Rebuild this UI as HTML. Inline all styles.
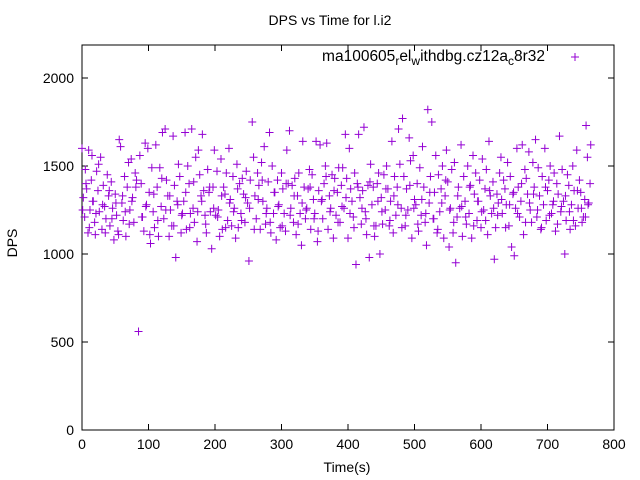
<!DOCTYPE html>
<html><head><meta charset="utf-8"><style>
body{margin:0;background:#fff;}
svg{display:block;font-family:"Liberation Sans",sans-serif;}
</style></head><body>
<svg id="chart" width="640" height="480" viewBox="0 0 640 480">
<text x="330" y="25" font-size="14" text-anchor="middle">DPS vs Time for l.i2</text>
<rect x="82" y="45" width="532" height="385" fill="none" stroke="#000" stroke-width="1"/>
<g id="ticks"></g>
<g id="pts"></g>
<text transform="translate(17,243) rotate(-90)" font-size="14" text-anchor="middle">DPS</text>
<text x="347" y="472" font-size="14" text-anchor="middle">Time(s)</text>
<g>
<text x="545" y="61" font-size="15.5" text-anchor="end">ma100605<tspan font-size="12" dy="4">r</tspan><tspan dy="-4">el</tspan><tspan font-size="12" dy="4">w</tspan><tspan dy="-4">ithdbg.cz12a</tspan><tspan font-size="12" dy="4">c</tspan><tspan dy="-4">8r32</tspan></text>
<path d="M571 57h8M575 53v8" stroke="#9400d3" stroke-width="1"/>
</g>
</svg>
<script>
const xTicks=[0,100,200,300,400,500,600,700,800];
const yTicks=[0,500,1000,1500,2000];
const times=[0,2,4,5,7,9,10,12,14,15,17,19,20,22,24,26,28,30,32,34,36,38,40,42,44,46,48,50,52,54,56,58,60,62,64,66,68,70,72,74,76,78,80,82,85,87,89,91,93,95,97,99,101,103,105,107,109,111,113,115,117,119,121,123,125,127,129,131,133,135,137,139,141,143,145,147,149,151,153,155,157,159,161,163,165,167,169,171,173,175,177,179,181,183,185,187,189,191,193,195,197,199,201,203,205,207,209,211,213,215,217,219,221,223,225,227,229,231,233,235,237,239,241,243,245,247,249,251,253,256,258,260,262,264,266,268,270,272,274,276,278,280,282,284,286,288,290,292,294,296,298,300,302,304,306,308,310,312,314,316,318,320,322,324,326,328,330,332,334,336,338,340,342,344,346,348,350,352,354,356,358,360,362,364,366,368,370,372,374,376,378,380,382,384,386,388,390,392,394,396,398,400,402,404,406,408,410,412,414,416,418,420,422,424,426,428,430,432,434,436,438,440,442,444,446,448,450,452,454,456,458,460,462,464,466,468,470,472,474,476,478,480,482,484,486,488,490,492,494,496,498,500,502,504,506,508,510,512,514,516,518,520,522,524,526,528,530,532,534,536,538,540,542,544,546,548,550,552,554,556,558,560,562,564,566,568,570,572,574,576,578,580,582,584,586,588,590,592,594,596,598,600,602,604,606,608,610,612,614,616,618,620,622,624,626,628,630,632,634,636,638,640,642,644,646,648,650,652,654,656,658,660,662,664,666,668,670,672,674,676,678,680,682,684,686,688,690,692,694,696,698,700,702,704,706,708,710,712,714,716,718,720,722,724,726,728,730,732,734,736,738,740,742,744,746,748,750,752,754,756,758,760,762,764,765];
const dps=[1600,1320,1210,1480,1370,1120,1590,1250,1420,1560,1300,1180,1110,1470,1360,1240,1550,1140,1390,1270,1200,1450,1330,1160,1410,1260,1080,1340,1220,1130,1650,1610,1290,1190,1440,1100,1380,1520,1250,1540,1320,1180,1460,1420,560,1560,1400,1210,1130,1630,1280,1600,1350,1060,1490,1240,1150,1620,1380,1100,1490,1270,1690,1200,1710,1420,1330,1100,1250,1160,1670,1390,980,1300,1510,1440,1120,1230,1300,1690,1140,1500,1400,1230,1710,1260,1180,1550,1070,1590,1450,1330,1680,1360,1220,1120,1480,1350,1240,1030,1380,1590,1220,1470,1250,1100,1540,1140,1380,1340,1460,1190,1600,1310,1160,1440,1260,1090,1510,1150,1400,1230,1430,1340,1180,1470,1290,960,1420,1750,1550,1330,1200,1460,1390,1140,1520,1300,1610,1170,1260,1410,1690,1120,1500,1230,1350,1080,1420,1280,1150,1460,1370,1230,1130,1590,1400,1700,1260,1390,1180,1430,1110,1330,1460,1230,1050,1640,1380,1200,1260,1370,1480,1140,1450,1310,1230,1640,1070,1360,1620,1300,1200,1400,1500,1630,1140,1330,1260,1450,1090,1430,1220,1350,1490,1180,1390,1490,1260,1680,1430,1090,1600,1370,1300,1210,1460,940,1400,1680,1320,1170,1360,1720,1240,1110,1390,980,1510,1280,1380,1100,1160,1400,1460,1000,1320,1170,1450,1250,1500,1370,1160,1300,1640,1120,1440,1220,1380,1710,1510,1260,1770,1440,1160,1370,1250,1660,1530,1090,1560,1310,1280,1400,1130,1490,1220,1610,1380,1180,1050,1820,1290,1440,1750,1200,1350,1560,1120,1450,1240,1370,1500,1090,1330,1590,1410,1040,1260,1480,1120,1520,950,1210,1380,1260,1620,1100,1440,1300,1170,1500,1230,1390,1090,1560,1340,1460,1190,1300,1420,1150,1540,1250,1370,1480,1110,1640,1330,1230,1410,970,1150,1340,1290,1460,1550,1230,1420,1370,1280,1520,1160,1440,1040,1340,990,1260,1600,1380,1210,1300,1620,1110,1480,1430,1340,1580,1250,1180,1520,1380,1650,1210,1490,1330,1140,1440,1280,1600,1190,1360,1420,1500,1230,1280,1460,1130,1400,1340,1670,1240,1480,1300,1000,1190,1450,1390,1140,1280,1500,1360,1160,1590,1260,1420,1350,1180,1210,1310,1730,1550,1290,1400,1620,1200,1700,1330,1600,1120,300];
const times2=[1,6,11,16,21,25,31,35,41,45,51,55,61,65,71,75,81,90,96,102,108,114,120,126,132,138,144,150,156,162,168,174,180,186,192,198,204,210,216,222,228,234,240,246,252,259,265,271,277,283,289,295,301,307,313,319,325,331,337,343,349,355,361,367,373,379,385,391,397,403,409,415,421,427,433,439,445,451,457,463,469,475,481,487,493,499,505,511,517,523,529,535,541,547,553,559,565,571,577,583,589,595,601,607,613,619,625,631,637,643,649,655,661,667,673,679,685,691,697,703,709,715,721,727,733,739,745,751,757,761];
const dps2=[1250,1400,1150,1300,1230,1510,1280,1120,1360,1200,1290,1110,1330,1240,1170,1300,1380,1210,1270,1110,1340,1190,1430,1250,1330,1160,1280,1220,1350,1150,1410,1240,1300,1170,1380,1260,1210,1330,1150,1290,1240,1370,1190,1320,1260,1140,1310,1420,1230,1180,1350,1270,1160,1400,1220,1330,1170,1290,1250,1380,1200,1130,1310,1440,1240,1360,1180,1270,1320,1230,1150,1380,1260,1200,1410,1160,1300,1240,1370,1190,1330,1280,1150,1220,1390,1260,1170,1310,1230,1350,1200,1140,1290,1420,1250,1180,1330,1270,1210,1380,1160,1300,1240,1190,1360,1260,1220,1310,1150,1280,1350,1230,1400,1180,1290,1340,1250,1150,1380,1220,1300,1170,1270,1330,1240,1190,1360,1260,1210,1280];
const X0=82,X1=614,Y0=430,Y1=78;
function sx(v){return X0+(v-0)/(800-0)*(X1-X0);}
function sy(v){return Y0-(v-0)/(2000-0)*(Y0-Y1);}
const NS="http://www.w3.org/2000/svg";
const tg=document.getElementById('ticks');
xTicks.forEach(t=>{
 const p=document.createElementNS(NS,'path');
 p.setAttribute('d',`M${sx(t)} 430v-6M${sx(t)} 45v6`);
 p.setAttribute('stroke','#000');
 
 
 tg.appendChild(p);
 const l=document.createElementNS(NS,'text');
 l.setAttribute('x',sx(t));l.setAttribute('y',449);
 l.setAttribute('font-size','14');l.setAttribute('text-anchor','middle');
 l.textContent=t;
 
 
 tg.appendChild(l);
});
yTicks.forEach(t=>{
 const p=document.createElementNS(NS,'path');
 p.setAttribute('d',`M82 ${sy(t)}h6M614 ${sy(t)}h-6`);
 p.setAttribute('stroke','#000');
 
 
 tg.appendChild(p);
 const l=document.createElementNS(NS,'text');
 l.setAttribute('x',74);l.setAttribute('y',sy(t)+5);
 l.setAttribute('font-size','14');l.setAttribute('text-anchor','end');
 l.textContent=t;
 
 
 tg.appendChild(l);
});
const pg=document.getElementById('pts');
let d='';
times.forEach((t,i)=>{const x=sx(t),y=sy(dps[i]);d+=`M${x-4} ${y}h8M${x} ${y-4}v8`;});
times2.forEach((t,i)=>{const x=sx(t),y=sy(dps2[i]);d+=`M${x-4} ${y}h8M${x} ${y-4}v8`;});
const pp=document.createElementNS(NS,'path');
pp.setAttribute('d',d);pp.setAttribute('stroke','#9400d3');pp.setAttribute('stroke-width','1');pp.setAttribute('fill','none');


pg.appendChild(pp);
</script>
</body></html>
